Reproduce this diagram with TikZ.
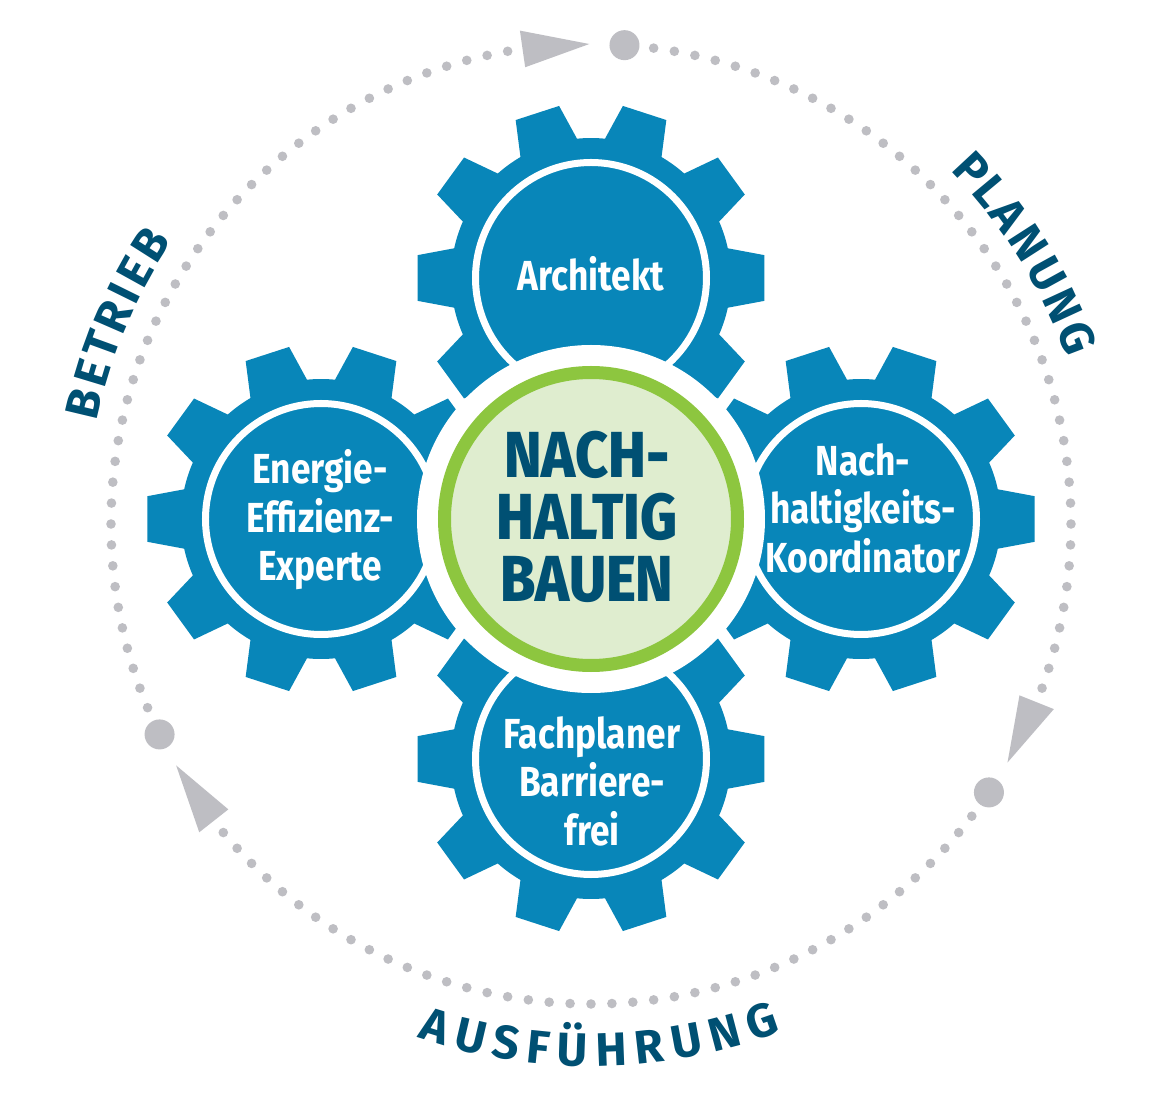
\documentclass[tikz,border=0pt]{standalone}
\usepackage{fontspec}
\setmainfont{Fira Sans}
\newfontfamily\narrowsans{Fira Sans}[FakeStretch=0.84]
\newfontfamily\hubsans{Fira Sans ExtraBold}[FakeStretch=0.88]
\usepackage{tikz}
\usetikzlibrary{calc}

\definecolor{cogblue}{RGB}{8,134,185}
\definecolor{deepblue}{RGB}{0,80,115}
\definecolor{ringgreen}{RGB}{141,198,63}
\definecolor{palegreen}{RGB}{223,237,207}
\definecolor{dotgray}{RGB}{190,190,195}

\tikzset{
  pics/cog/.style={code={
    \fill[cogblue] (-12.25:140) \foreach \a in {0,36,...,324}{
      -- ({\a-12.25}:140) -- ({\a-7.5}:175) -- ({\a+7.5}:175) -- ({\a+12.25}:140)
      arc[start angle=\a+12.25, end angle=\a+23.75, radius=140]} -- cycle;
    \draw[white,line width=7] (0,0) circle[radius=115.5];
  }},
  cogtext/.style={text=white,align=center,font=\narrowsans\bfseries\fontsize{42}{48.5}\selectfont},
  hubtext/.style={text=deepblue,align=center,font=\hubsans\fontsize{65}{62}\selectfont},
  arcletter/.style={text=deepblue,anchor=base,font=\bfseries\fontsize{47}{47}\selectfont}
}

\begin{document}
\begin{tikzpicture}[x=1pt,y=1pt]
% Canvas
\fill[white] (-591,-586) rectangle (565,519);
\useasboundingbox (-591,-586) rectangle (565,519);
\coordinate (hub) at (0,-5);

% Dotted cycle with arrows
\foreach \b in {86,-34,206}{
  \fill[dotgray] ($(hub)+(\b:480)$) circle[radius=15];
  \foreach \k in {0,...,41}
    \fill[dotgray] ($(hub)+({\b-3.5-2.5*\k}:480)$) circle[radius=4.8];
  \fill[dotgray] ($(hub)+({\b-107.8}:498.5)$) -- ($(hub)+({\b-107.8}:461.5)$)
    -- ($(hub)+({\b-115.8}:480)$) -- cycle;
}

% Phases
\foreach \ch/\ang [count=\i] in {P/42.96,L/39.78,A/36.51,N/32.70,U/28.76,N/24.81,G/20.93}
  \node[arcletter,rotate=\ang-90] (planung-\i) at ($(hub)+(\ang:504)$) {\ch};
\foreach \ch/\ang [count=\i] in {B/166.63,E/163.15,T/159.95,R/156.52,I/153.68,E/151.06,B/147.58}
  \node[arcletter,rotate=\ang-90] (betrieb-\i) at ($(hub)+(\ang:505)$) {\ch};
\foreach \ch/\ang [count=\i] in {A/252.76,U/256.84,S/260.77,F/264.23,Ü/268.0,H/272.26,R/276.38,U/280.44,N/284.71,G/288.93}
  \node[arcletter,rotate=\ang+90] (ausfuehrung-\i) at ($(hub)+(\ang:542)$) {\ch};

% Gears
\pic at (0,241) {cog};
\pic at (-270,0) {cog};
\pic at (270,0) {cog};
\pic at (0,-240) {cog};

% Hub
\fill[white] (0,0) circle[radius=174];
\draw[ringgreen,fill=palegreen,line width=13] (0,0) circle[radius=146.5];

% Labels
\node[cogtext] (architekt) at (0,245.5) {Architekt};
\node[cogtext] (energie) at (-271,-1) {Energie-\\Effizienz-\\Experte};
\node[cogtext] (koordinator) at (272,11) {Nach-\\haltigkeits-\\Koordinator};
\node[cogtext] (fachplaner) at (1,-262) {Fachplaner\\Barriere-\\frei};
\node[hubtext] (nachhaltig) at (-4,2.5) {NACH-\\HALTIG\\BAUEN};
\end{tikzpicture}
\end{document}
